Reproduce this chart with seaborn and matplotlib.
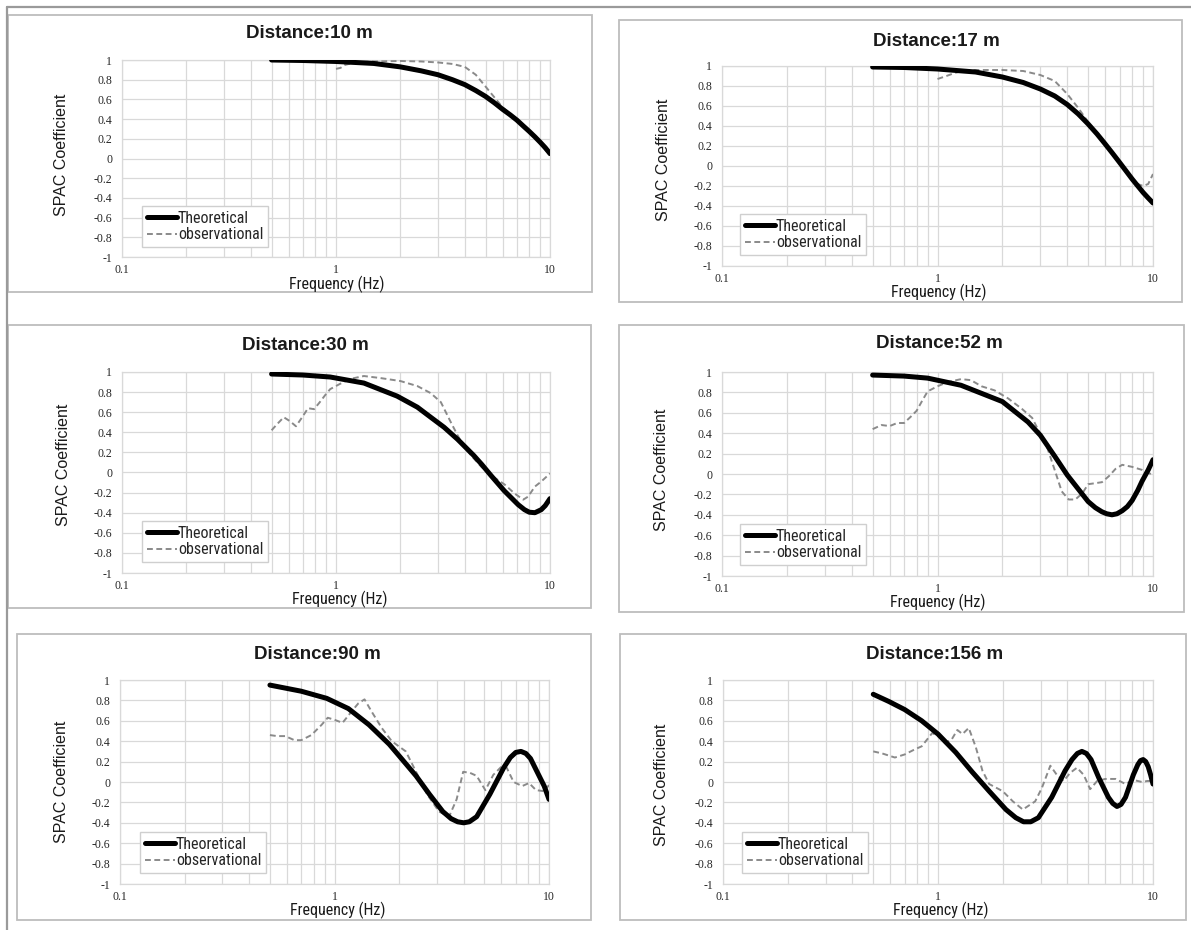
import matplotlib
matplotlib.use("Agg")
import matplotlib.pyplot as plt
from matplotlib import font_manager
from matplotlib.font_manager import FontProperties
from matplotlib.patches import Rectangle
from matplotlib.lines import Line2D
from matplotlib.ticker import LogLocator, NullFormatter
import seaborn as sns
import pandas as pd

# ---- data (frequency in Hz, SPAC coefficient) ----
distances = ["10", "17", "30", "52", "90", "156"]

theo_f_10 = [0.5, 0.7, 1.0, 1.5, 2.0, 2.5, 3.0, 3.5, 4.0, 4.5, 5.0, 5.5, 6.0, 6.5, 7.0, 7.5, 8.0, 8.5, 9.0, 9.5, 10.0]
theo_v_10 = [1.0, 0.995, 0.985, 0.965, 0.93, 0.89, 0.85, 0.80, 0.75, 0.69, 0.63, 0.565, 0.50, 0.445, 0.39, 0.33, 0.275, 0.22, 0.165, 0.11, 0.05]
obs_f_10 = [1.0, 1.05, 1.1, 1.2, 1.3, 1.5, 2.0, 2.5, 3.0, 3.5, 4.0, 4.5, 5.0, 5.5, 6.0, 7.0, 8.0, 9.0, 10.0]
obs_v_10 = [0.91, 0.92, 0.95, 0.97, 0.98, 0.985, 0.99, 0.985, 0.975, 0.96, 0.93, 0.85, 0.73, 0.62, 0.52, 0.40, 0.29, 0.15, 0.03]

theo_f_17 = [0.5, 0.7, 1.0, 1.5, 2.0, 2.5, 3.0, 3.5, 4.0, 4.5, 5.0, 5.5, 6.0, 6.5, 7.0, 7.5, 8.0, 8.5, 9.0, 9.5, 10.0]
theo_v_17 = [0.99, 0.985, 0.97, 0.94, 0.89, 0.835, 0.77, 0.70, 0.615, 0.52, 0.42, 0.32, 0.22, 0.125, 0.035, -0.05, -0.13, -0.20, -0.265, -0.32, -0.37]
obs_f_17 = [1.0, 1.1, 1.2, 1.3, 1.5, 2.0, 2.5, 3.0, 3.5, 4.0, 4.5, 5.0, 5.5, 6.0, 7.0, 8.0, 8.5, 9.0, 9.5, 10.0]
obs_v_17 = [0.87, 0.90, 0.93, 0.95, 0.96, 0.96, 0.95, 0.91, 0.85, 0.72, 0.58, 0.44, 0.32, 0.21, 0.02, -0.14, -0.18, -0.20, -0.18, -0.08]

theo_f_30 = [0.5, 0.7, 0.94, 1.35, 1.93, 2.4, 2.77, 3.2, 3.7, 4.4, 4.8, 5.3, 6.1, 7.1, 7.6, 8.0, 8.5, 9.1, 9.5, 10.0]
theo_v_30 = [0.98, 0.97, 0.95, 0.89, 0.76, 0.65, 0.55, 0.45, 0.33, 0.17, 0.08, -0.03, -0.18, -0.32, -0.37, -0.395, -0.40, -0.37, -0.33, -0.26]
obs_f_30 = [0.5, 0.53, 0.57, 0.61, 0.65, 0.7, 0.74, 0.79, 0.84, 0.89, 0.94, 1.04, 1.16, 1.35, 1.61, 2.0, 2.4, 2.77, 3.09,
            3.44, 3.7, 3.98, 4.28, 4.76, 5.32, 6.14, 6.84, 7.5, 7.9, 8.5, 9.1, 10.0]
obs_v_30 = [0.42, 0.48, 0.55, 0.51, 0.46, 0.56, 0.64, 0.63, 0.70, 0.77, 0.83, 0.88, 0.93, 0.96, 0.94, 0.91, 0.86, 0.79, 0.70,
            0.50, 0.37, 0.25, 0.17, 0.06, -0.03, -0.12, -0.21, -0.27, -0.24, -0.14, -0.09, -0.01]

theo_f_52 = [0.5, 0.7, 0.9, 1.285, 2.0, 2.63, 3.0, 3.51, 4.0, 4.51, 5.0, 5.4, 5.79, 6.1, 6.45, 6.8, 7.2, 7.6, 8.0, 8.5, 8.9, 9.5, 10.0]
theo_v_52 = [0.97, 0.96, 0.94, 0.87, 0.71, 0.51, 0.38, 0.17, -0.01, -0.15, -0.27, -0.33, -0.37, -0.39, -0.40, -0.39, -0.36, -0.32, -0.26, -0.16, -0.07, 0.04, 0.14]
obs_f_52 = [0.5, 0.55, 0.6, 0.65, 0.7, 0.75, 0.8, 0.85, 0.9, 1.0, 1.11, 1.285, 1.43, 1.6, 1.84, 2.13, 2.46, 2.75, 3.02,
            3.24, 3.51, 3.77, 4.06, 4.36, 4.7, 5.0, 5.4, 5.8, 6.25, 6.7, 7.2, 8.0, 8.9, 10.0]
obs_v_52 = [0.44, 0.48, 0.47, 0.50, 0.50, 0.56, 0.62, 0.72, 0.81, 0.86, 0.90, 0.93, 0.92, 0.86, 0.82, 0.74, 0.64, 0.55, 0.38,
            0.25, 0.03, -0.17, -0.25, -0.25, -0.19, -0.10, -0.09, -0.08, -0.02, 0.05, 0.09, 0.07, 0.04, -0.01]

theo_f_90 = [0.5, 0.7, 0.92, 1.16, 1.45, 1.8, 2.07, 2.4, 2.77, 3.2, 3.5, 3.75, 4.0, 4.25, 4.6, 5.3, 6.15, 6.6, 7.0, 7.4,
             7.8, 8.2, 8.8, 9.5, 10.0]
theo_v_90 = [0.95, 0.89, 0.82, 0.72, 0.56, 0.37, 0.22, 0.06, -0.12, -0.29, -0.36, -0.39, -0.40, -0.39, -0.34, -0.12, 0.14, 0.24, 0.29, 0.30,
             0.28, 0.23, 0.10, -0.04, -0.17]
obs_f_90 = [0.5, 0.54, 0.59, 0.65, 0.70, 0.78, 0.87, 0.93, 1.0, 1.09, 1.2, 1.29, 1.38, 1.49, 1.66, 1.85, 2.15, 2.4, 2.7,
            3.07, 3.42, 3.71, 3.98, 4.28, 4.6, 5.05, 5.5, 6.0, 6.35, 6.84, 7.5, 8.07, 8.7, 9.5, 10.0]
obs_v_90 = [0.46, 0.45, 0.45, 0.41, 0.41, 0.46, 0.56, 0.63, 0.61, 0.58, 0.69, 0.77, 0.81, 0.69, 0.53, 0.40, 0.30, 0.10, -0.12,
            -0.29, -0.34, -0.17, 0.10, 0.09, 0.06, -0.08, 0.07, 0.15, 0.14, 0.0, -0.04, -0.01, -0.08, -0.09, -0.03]

theo_f_156 = [0.5, 0.59, 0.70, 0.84, 1.0, 1.21, 1.44, 1.73, 2.07, 2.3, 2.5, 2.7, 2.93, 3.38, 3.9, 4.2, 4.45, 4.67, 4.9, 5.15,
              5.6, 6.2, 6.5, 6.8, 7.1, 7.45, 8.1, 8.5, 8.75, 9.0, 9.25, 9.5, 9.75, 10.0]
theo_v_156 = [0.86, 0.79, 0.71, 0.60, 0.47, 0.29, 0.10, -0.09, -0.27, -0.35, -0.39, -0.39, -0.35, -0.15, 0.11, 0.22, 0.28, 0.30, 0.28, 0.22,
              0.04, -0.15, -0.21, -0.24, -0.22, -0.15, 0.07, 0.17, 0.21, 0.22, 0.20, 0.15, 0.07, -0.02]
obs_f_156 = [0.5, 0.55, 0.63, 0.70, 0.78, 0.84, 0.94, 1.0, 1.08, 1.16, 1.23, 1.3, 1.39, 1.5, 1.61, 1.73, 2.0, 2.23, 2.48,
             2.83, 3.04, 3.33, 3.57, 3.84, 4.12, 4.43, 4.76, 5.1, 5.5, 6.0, 6.7, 7.45, 8.1, 8.9, 9.4, 10.0]
obs_v_156 = [0.30, 0.28, 0.24, 0.27, 0.32, 0.35, 0.48, 0.45, 0.38, 0.42, 0.51, 0.47, 0.53, 0.34, 0.11, -0.02, -0.09, -0.19, -0.27,
             -0.19, -0.06, 0.16, 0.07, 0.01, 0.09, 0.14, 0.07, -0.07, 0.01, 0.03, 0.03, -0.02, 0.02, 0.0, 0.01, 0.01]

theo_f = [theo_f_10, theo_f_17, theo_f_30, theo_f_52, theo_f_90, theo_f_156]
theo_v = [theo_v_10, theo_v_17, theo_v_30, theo_v_52, theo_v_90, theo_v_156]
obs_f = [obs_f_10, obs_f_17, obs_f_30, obs_f_52, obs_f_90, obs_f_156]
obs_v = [obs_v_10, obs_v_17, obs_v_30, obs_v_52, obs_v_90, obs_v_156]

x_ticks = [0.1, 1, 10]
x_tick_labels = ["0.1", "1", "10"]
y_ticks = [1, 0.8, 0.6, 0.4, 0.2, 0, -0.2, -0.4, -0.6, -0.8, -1]
y_tick_labels = ["1", "0.8", "0.6", "0.4", "0.2", "0", "-0.2", "-0.4", "-0.6", "-0.8", "-1"]

# ---- layout (pixel positions in the 1191x930 canvas) ----
W, H = 1191, 930
layout = [
    dict(ax=(122, 60, 550, 257), box=(8, 15, 592, 292), title=(309, 33), ylab=(61, 155), xlab=(337, 284), leg=(142, 206)),
    dict(ax=(722, 66, 1153, 266), box=(619, 20, 1182, 302), title=(936, 42), ylab=(664, 160), xlab=(939, 292), leg=(740, 214)),
    dict(ax=(122, 372, 550, 573), box=(8, 325, 591, 608), title=(305, 345), ylab=(63, 465), xlab=(340, 599), leg=(142, 521)),
    dict(ax=(722, 372, 1153, 576), box=(619, 325, 1184, 612), title=(939, 343), ylab=(662, 470), xlab=(938, 602), leg=(740, 524)),
    dict(ax=(120, 680, 549, 884), box=(17, 634, 591, 920), title=(317, 654), ylab=(61, 782), xlab=(338, 910), leg=(140, 832)),
    dict(ax=(723, 680, 1153, 884), box=(620, 634, 1186, 920), title=(935, 654), ylab=(662, 785), xlab=(941, 910), leg=(742, 832)),
]

sns.set_style("white")
plt.rcParams["font.family"] = ["Liberation Sans", "DejaVu Sans"]

# a condensed sans for legend / x label if one is installed
narrow_prop = None
for key in ["LiberationSansNarrow-Regular", "RobotoCondensed", "DejaVuSansCondensed.ttf", "OpenSans_Condensed", "Condensed"]:
    for f in font_manager.fontManager.ttflist:
        if key.lower() in f.fname.replace("-", "").lower().replace(" ", "") or key.lower() in f.fname.lower():
            if "bold" in f.fname.lower() or "italic" in f.fname.lower() or "oblique" in f.fname.lower():
                continue
            narrow_prop = FontProperties(fname=f.fname, size=11.5)
            break
    if narrow_prop is not None:
        break
if narrow_prop is None:
    narrow_prop = FontProperties(family="Liberation Sans", size=10)

grid_col = "#d9d9d9"
obs_col = "#8a8a8a"

fig = plt.figure(figsize=(W / 100, H / 100), dpi=100)


def fx(x):
    return x / W


def fy(y):
    return 1 - y / H


for i, lay in enumerate(layout):
    x0, y0, x1, y1 = lay["ax"]
    ax = fig.add_axes([fx(x0), fy(y1), (x1 - x0) / W, (y1 - y0) / H])
    ax.set_xscale("log")

    df_t = pd.DataFrame({"freq": theo_f[i], "spac": theo_v[i]})
    df_o = pd.DataFrame({"freq": obs_f[i], "spac": obs_v[i]})
    sns.lineplot(data=df_o, x="freq", y="spac", ax=ax, color=obs_col, linewidth=1.4, zorder=3)
    ax.lines[-1].set_dashes([3, 1.8])
    sns.lineplot(data=df_t, x="freq", y="spac", ax=ax, color="black", linewidth=3.6, zorder=4,
                 solid_capstyle="round", solid_joinstyle="round")

    ax.set_xlim(0.1, 10)
    ax.set_ylim(-1, 1)
    ax.set_xticks(x_ticks)
    ax.set_xticklabels(x_tick_labels)
    ax.xaxis.set_minor_locator(LogLocator(base=10, subs=range(2, 10)))
    ax.xaxis.set_minor_formatter(NullFormatter())
    ax.set_yticks(y_ticks)
    ax.set_yticklabels(y_tick_labels)
    ax.tick_params(which="both", length=0)
    ax.tick_params(axis="x", pad=5)
    ax.tick_params(axis="y", pad=7)
    for lab in ax.get_xticklabels() + ax.get_yticklabels():
        lab.set_fontfamily("Liberation Serif")
        lab.set_fontsize(8.5)
        lab.set_color("#262626")
    ax.grid(True, which="major", axis="both", color=grid_col, linewidth=0.9)
    ax.grid(True, which="minor", axis="x", color=grid_col, linewidth=0.9)
    ax.set_axisbelow(True)
    for sp in ax.spines.values():
        sp.set_color(grid_col)
        sp.set_linewidth(0.9)
    ax.set_xlabel("")
    ax.set_ylabel("")

    handles = [Line2D([], [], color="black", linewidth=3.6),
               Line2D([], [], color=obs_col, linewidth=1.4, dashes=[3, 1.8])]
    lx, ly = lay["leg"]
    leg = ax.legend(handles, ["Theoretical", "observational"], loc="upper left",
                    bbox_to_anchor=(fx(lx), fy(ly)), bbox_transform=fig.transFigure,
                    borderaxespad=0, borderpad=0.3, handlelength=1.9, handletextpad=0.05,
                    labelspacing=0.1, fancybox=False, framealpha=1, prop=narrow_prop)
    leg.get_frame().set_edgecolor("#cfcfcf")
    leg.get_frame().set_linewidth(1.0)
    leg.set_zorder(6)

    # panel box, title and axis labels
    bx0, by0, bx1, by1 = lay["box"]
    fig.add_artist(Rectangle((fx(bx0), fy(by1)), (bx1 - bx0) / W, (by1 - by0) / H,
                             transform=fig.transFigure, fill=False, edgecolor="#bdbdbd", linewidth=1.3))
    tx, ty = lay["title"]
    fig.text(fx(tx), fy(ty), "Distance:" + distances[i] + " m", ha="center", va="center",
             fontsize=13.5, fontweight="bold", color="#1a1a1a")
    yx, yy = lay["ylab"]
    fig.text(fx(yx), fy(yy), "SPAC Coefficient", ha="center", va="center", rotation=90,
             fontsize=11.5, color="#1a1a1a")
    xx, xy = lay["xlab"]
    fig.text(fx(xx), fy(xy), "Frequency (Hz)", ha="center", va="center",
             fontproperties=narrow_prop, color="#1a1a1a")

# outer frame lines (left and top)
fig.add_artist(Line2D([fx(7), fx(7)], [0, fy(7)], transform=fig.transFigure, color="#9a9a9a", linewidth=1.6))
fig.add_artist(Line2D([fx(7), 1], [fy(7), fy(7)], transform=fig.transFigure, color="#9a9a9a", linewidth=1.6))

fig.savefig("out.png", dpi=100)
